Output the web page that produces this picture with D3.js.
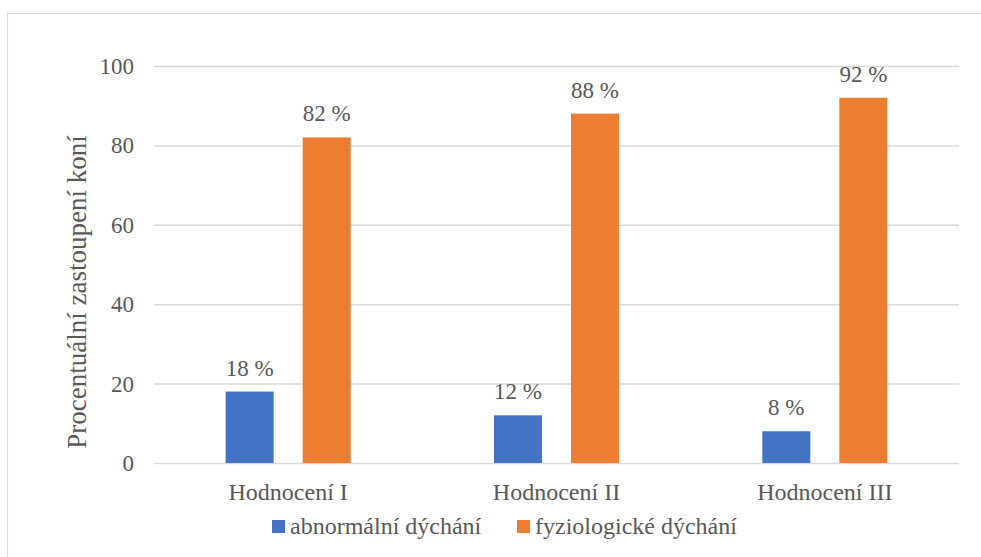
<!DOCTYPE html>
<html><head><meta charset="utf-8">
<script src="https://cdn.jsdelivr.net/npm/d3@7"></script>
<style>html,body{margin:0;padding:0;background:#fff;}svg{display:block;}</style>
</head><body>
<script>
const categories = ["Hodnocení I", "Hodnocení II", "Hodnocení III"];
const seriesNames = ["abnormální dýchání", "fyziologické dýchání"];
const abnormal = [18, 12, 8];
const physiological = [82, 88, 92];
const yTicks = [0, 20, 40, 60, 80, 100];
const colors = ["#4472C4", "#ED7D31"];
const yTitle = "Procentuální zastoupení koní";

const W = 981, H = 557;
const svg = d3.select("body").append("svg").attr("width", W).attr("height", H);
const font = "'Liberation Serif','Times New Roman',serif";
const txt = "#595959";

svg.append("rect").attr("x", 7.5).attr("y", 13.5).attr("width", 1000).attr("height", 1000)
  .attr("fill", "#fff").attr("stroke", "#d9d9d9").attr("stroke-width", 1.2);

const x0 = d3.scaleBand().domain(categories).range([154, 959]).paddingInner(0.534).paddingOuter(0.267);
const x1 = d3.scaleBand().domain(seriesNames).range([0, x0.bandwidth()]).paddingInner(0.377);
const y = d3.scaleLinear().domain([0, 100]).range([463, 66]);

// gridlines
const yAxis = d3.axisLeft(y).tickValues(yTicks).tickSize(-(959 - 154)).tickPadding(20);
const gy = svg.append("g").attr("transform", "translate(154,0)").call(yAxis);
gy.select(".domain").remove();
gy.selectAll(".tick line").attr("stroke", "#d9d9d9").attr("stroke-width", 1.5);
gy.selectAll(".tick text").attr("fill", txt).style("font-family", font).style("font-size", "23px").attr("dy", "0.33em");

// x axis labels
const xAxis = d3.axisBottom(x0).tickSize(0).tickPadding(20);
const gx = svg.append("g").attr("transform", "translate(0,463)").call(xAxis);
gx.select(".domain").remove();
gx.selectAll(".tick text").attr("fill", txt).style("font-family", font).style("font-size", "24px");

const data = categories.map((c, i) => ({cat: c, vals: [abnormal[i], physiological[i]]}));
const groups = svg.append("g").selectAll("g").data(data).join("g")
  .attr("transform", d => `translate(${x0(d.cat)},0)`);
groups.selectAll("rect").data(d => d.vals.map((v, j) => ({s: seriesNames[j], v, j}))).join("rect")
  .attr("x", d => x1(d.s)).attr("width", x1.bandwidth())
  .attr("y", d => y(d.v)).attr("height", d => y(0) - y(d.v))
  .attr("fill", d => colors[d.j]);
groups.selectAll("text.lbl").data(d => d.vals.map((v, j) => ({s: seriesNames[j], v, j}))).join("text")
  .attr("class", "lbl")
  .attr("x", d => x1(d.s) + x1.bandwidth() / 2).attr("y", d => y(d.v) - 16)
  .attr("text-anchor", "middle").attr("fill", txt)
  .style("font-family", font).style("font-size", "23px")
  .text(d => d.v + " %");

// y title
svg.append("text").attr("transform", "translate(86,292) rotate(-90)")
  .attr("text-anchor", "middle").attr("fill", txt)
  .style("font-family", font).style("font-size", "27px").text(yTitle);

// legend
const legX = [272, 517];
const leg = svg.append("g");
seriesNames.forEach((s, i) => {
  leg.append("rect").attr("x", legX[i]).attr("y", 520).attr("width", 13).attr("height", 13).attr("fill", colors[i]);
  leg.append("text").attr("x", legX[i] + 18).attr("y", 534).attr("fill", txt)
    .style("font-family", font).style("font-size", "24px").text(s);
});
</script>
</body></html>
